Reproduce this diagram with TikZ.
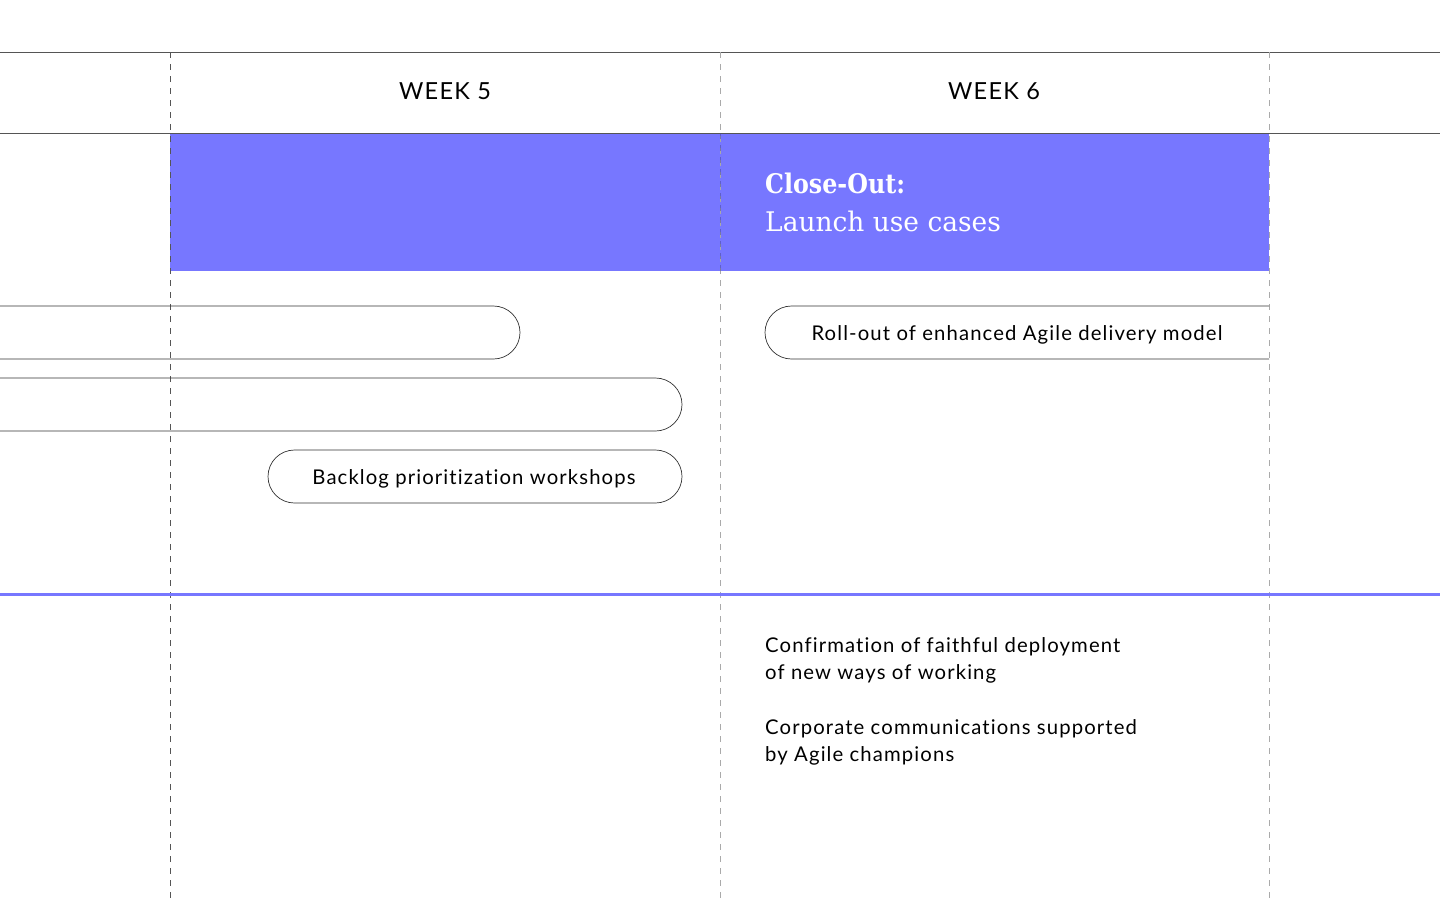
\documentclass[tikz,border=0pt]{standalone}
\usepackage{fontspec}
\setmainfont{Lato}[LetterSpace=5.5, Ligatures={NoCommon}]
\newfontfamily\slabfont{DejaVu Serif}
\usetikzlibrary{shapes.misc}
\definecolor{brandpurple}{HTML}{7777FF}
\definecolor{gridgray}{HTML}{555555}
\definecolor{dashgray}{HTML}{AAAAAA}
\tikzset{
  pill/.style={draw=black!80, line width=0.7pt, rounded rectangle, minimum height=53pt, inner sep=0pt},
  pilltext/.style={inner sep=0pt, font=\fontsize{20.3}{24}\selectfont},
  weeklabel/.style={font=\fontsize{23.5}{26}\selectfont, text=black},
  bodytext/.style={font=\fontsize{20.3}{27}\selectfont, align=left, anchor=north west, inner sep=0pt},
  divider/.style={gridgray, line width=0.8pt},
  daydash/.style={line width=0.8pt, dash pattern=on 6pt off 6pt}
}
\begin{document}
\begin{tikzpicture}[x=1pt,y=-1pt]
\useasboundingbox (0,0) rectangle (1440,900);
\clip (0,0) rectangle (1440,900);
% purple band
\fill[brandpurple] (170,133) rectangle (1269,271);
% horizontal rules
\coordinate (tl) at (0,52); \coordinate (tr) at (1440,52);
\coordinate (ml) at (0,133); \coordinate (mr) at (1440,133);
\draw[divider] (tl) -- (tr);
\draw[divider] (ml) -- (mr);
% vertical dashed lines
\coordinate (v1t) at (170,52); \coordinate (v1b) at (170,900);
\coordinate (v2t) at (720,52); \coordinate (v2b) at (720,900);
\coordinate (v3t) at (1269,52); \coordinate (v3b) at (1269,900);
\draw[daydash, draw=gridgray] (v1t) -- (v1b);
\draw[daydash, draw=dashgray] (v2t) -- (v2b);
\draw[daydash, draw=brandpurple!60!black, opacity=0.5] (720,133) -- (720,271);
\draw[daydash, draw=dashgray] (v3t) -- (v3b);
% purple divider
\coordinate (pl) at (0,594); \coordinate (pr) at (1440,594);
\draw[brandpurple, line width=3pt] (pl) -- (pr);
% week labels
\node[weeklabel] (w5) at (445,91) {WEEK 5};
\node[weeklabel] (w6) at (994,91) {WEEK 6};
% title
\node[anchor=base west, inner sep=0pt, text=white, font=\slabfont\bfseries\addfontfeature{FakeStretch=0.88}\fontsize{27}{30}\selectfont] (t1) at (765,193) {Close-Out:};
\node[anchor=base west, inner sep=0pt, text=white, font=\slabfont\addfontfeature{FakeStretch=0.98}\fontsize{27}{30}\selectfont] (t2) at (765,231) {Launch use cases};
% pills
\node[pill, minimum width=620pt] (p1) at (210,332.5) {};
\node[pill, minimum width=782pt] (p2) at (291,404.5) {};
\node[pill, minimum width=414pt] (p3) at (475,476.5) {};
\node[pilltext] (p3t) at (474,478.5) {Backlog prioritization workshops};
\begin{scope}
\clip (700,290) rectangle (1269,380);
\node[pill, minimum width=560pt] (p4) at (1045,332.5) {};
\end{scope}
\node[pilltext] (p4t) at (1017,334.5) {Roll-out of enhanced Agile delivery model};
% outcomes
\node[bodytext] (o1) at (765,637) {Confirmation of faithful deployment\\of new ways of working};
\node[bodytext] (o2) at (765,719) {Corporate communications supported\\by Agile champions};
\end{tikzpicture}
\end{document}
